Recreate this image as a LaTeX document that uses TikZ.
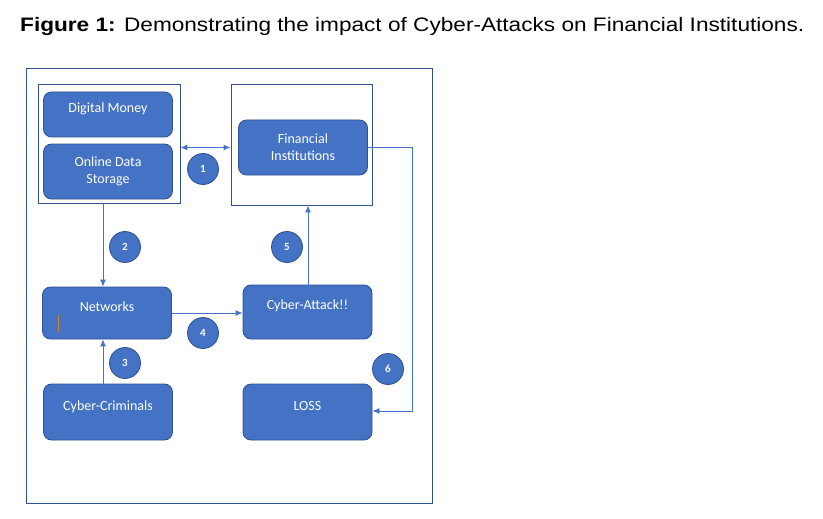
\documentclass[tikz,border=0pt]{standalone}
\usepackage{fontspec}
\setmainfont{Carlito}
\newfontfamily\titlefont[FakeStretch=1.16]{Liberation Sans}
\usetikzlibrary{arrows.meta}
\definecolor{boxblue}{HTML}{4472C4}
\definecolor{edgeblue}{HTML}{2F528F}
\definecolor{cursor}{HTML}{C8892A}
\tikzset{
  block/.style={draw=edgeblue,fill=boxblue,rounded corners=8pt,line width=0.8pt,
    text=white,font=\fontsize{14}{17}\selectfont,align=center,
    minimum width=129pt,inner sep=0pt},
  frame/.style={draw=edgeblue,line width=0.9pt,fill=white,inner sep=0pt},
  stepno/.style={circle,draw=edgeblue,fill=boxblue,line width=0.8pt,minimum size=31pt,
    inner sep=0pt,text=white,font=\fontsize{11}{13}\selectfont\bfseries},
  link/.style={draw=boxblue,line width=1pt,-{Latex[length=7pt,width=6pt]}},
}
\begin{document}
\begin{tikzpicture}[x=1pt,y=-1pt]
  \useasboundingbox (0,0) rectangle (823,519);
  % title
  \node[anchor=base west,inner sep=0pt,font=\titlefont\fontsize{19.5}{22}\selectfont] (title) at (20,32)
    {\textbf{Figure 1:} Demonstrating the impact of Cyber-Attacks on Financial Institutions.};
  % outer frame and the two group frames
  \draw[edgeblue,line width=0.9pt] (26,68) rectangle (432,503);
  \node[frame,minimum width=142pt,minimum height=119pt] (left) at (109,143.5) {};
  \node[frame,minimum width=141pt,minimum height=121pt] (right) at (301.5,144.5) {};

  % boxes
  \node[block,minimum height=45pt,text height=9.5pt,text depth=13pt] (dmoney) at (108,114.5) {Digital Money};
  \node[block,minimum height=55pt] (storage) at (108,171.5) {Online Data\\Storage};
  \node[block,minimum height=55pt] (finst) at (303,147.5) {Financial\\Institutions};
  \node[block,minimum height=52pt,text height=9.5pt,text depth=13pt] (net) at (107,313) {Networks};
  \node[block,minimum height=54pt,text height=9.5pt,text depth=15pt] (attack) at (307.5,312) {Cyber-Attack!!};
  \node[block,minimum height=56pt,text height=9.5pt,text depth=13pt] (crim) at (108,412) {Cyber-Criminals};
  \node[block,minimum height=56pt,text height=9.5pt,text depth=13pt] (loss) at (307.5,412) {LOSS};
  \draw[cursor,line width=1pt] (58,315) -- (58,332);

  % connectors
  \draw[link,{Latex[length=7pt,width=6pt]}-{Latex[length=7pt,width=6pt]}] (left.east |- finst) -- (right.west |- finst);
  \draw[link] (left.south -| 103,0) -- (net.north -| 103,0);
  \draw[link] (crim.north -| 103,0) -- (net.south -| 103,0);
  \draw[link] (net.east |- 0,313) -- (attack.west |- 0,313);
  \draw[link] (attack.north -| 308,0) -- (right.south -| 308,0);
  \draw[link] (finst.east) -- (412,147.5) -- (412,411) -- (loss.east |- 0,411);

  % step numbers
  \node[stepno] (s1) at (203,169) {1};
  \node[stepno] (s2) at (125,247) {2};
  \node[stepno] (s3) at (125,363) {3};
  \node[stepno] (s4) at (203,333) {4};
  \node[stepno] (s5) at (287,247) {5};
  \node[stepno] (s6) at (388,369) {6};
\end{tikzpicture}
\end{document}
